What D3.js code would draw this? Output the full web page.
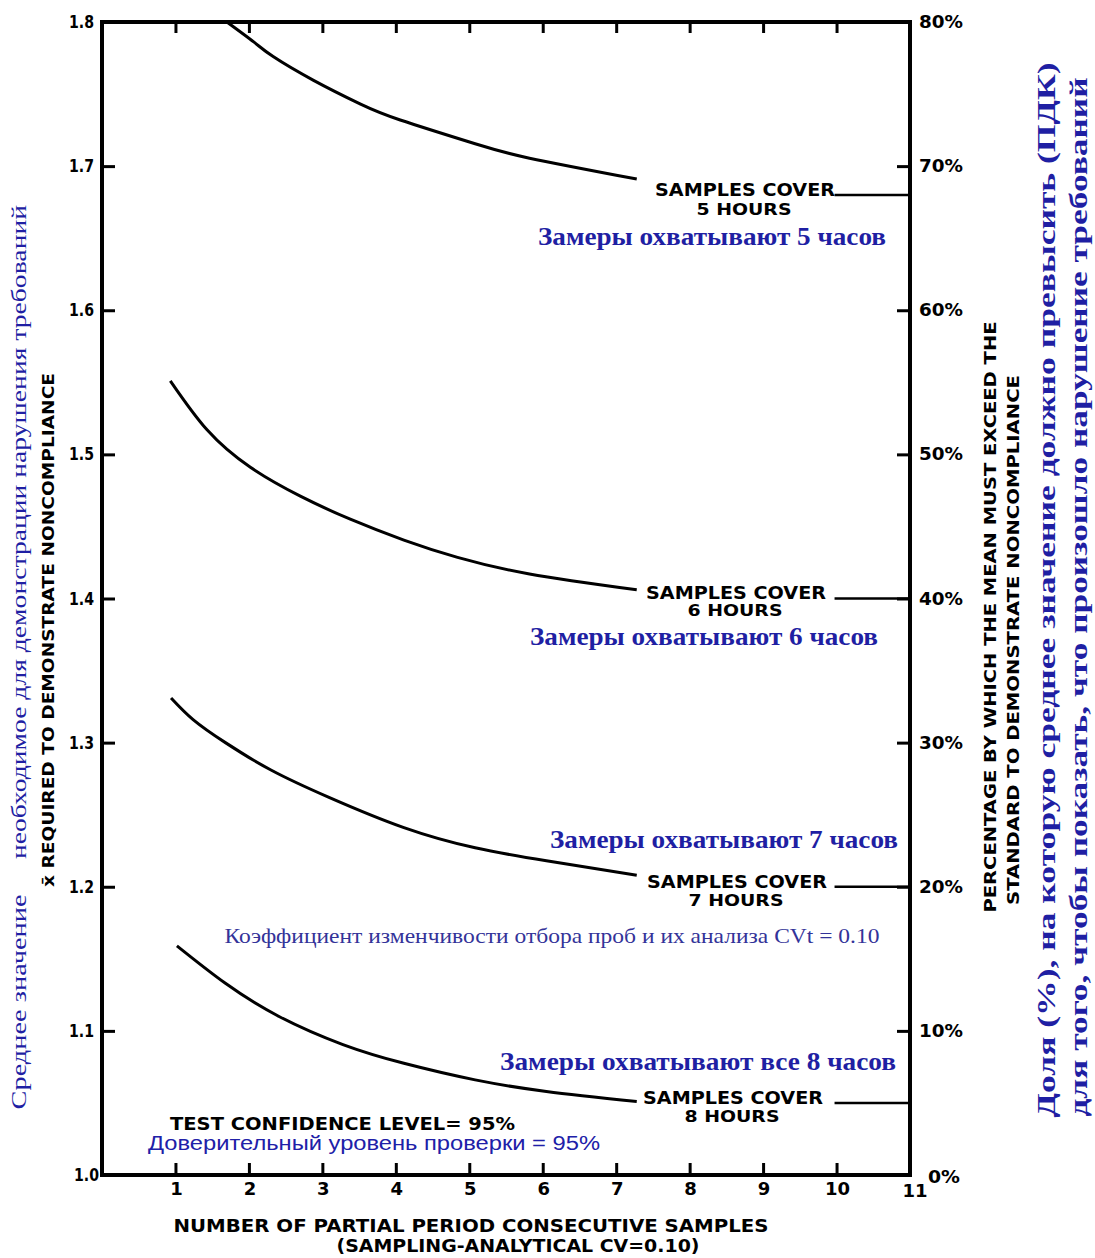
<!DOCTYPE html>
<html>
<head>
<meta charset="UTF-8" />
<title>Samples cover hours</title>
<script src="https://cdn.jsdelivr.net/npm/d3@7"></script>
<style>
body{margin:0;background:#fff;}
.blk{font-family:"DejaVu Sans",sans-serif;font-weight:bold;fill:#000;}
.ser{font-family:"Liberation Serif","Times New Roman",serif;fill:#1f1fa3;}
.san{font-family:"Liberation Sans",Arial,sans-serif;fill:#2020a8;}
</style>
</head>
<body>
<div id="svg_container"></div>
<script type="text/javascript">
var w=1095,h=1258;
var plotL=102,plotR=910,plotT=22,plotB=1175;

// x ticks / y ticks
var xTicks=[1,2,3,4,5,6,7,8,9,10,11];
var yTicks=[1.0,1.1,1.2,1.3,1.4,1.5,1.6,1.7,1.8];
var pctTicks=[0,10,20,30,40,50,60,70,80];

// curves, one pair of arrays per curve
var hours=[5,6,7,8];
var x5=[1.70,2.07,2.33,2.88,3.52,4.06,5.08,5.82,7.28];
var y5=[1.800,1.786,1.776,1.7595,1.743,1.732,1.7155,1.7055,1.691];
var x6=[0.93,1.43,2.02,2.70,3.38,4.11,4.84,5.82,7.28];
var y6=[1.551,1.517,1.491,1.471,1.455,1.4405,1.4285,1.417,1.406];
var x7=[0.94,1.24,1.68,2.30,3.09,4.11,5.08,6.05,7.28];
var y7=[1.331,1.316,1.300,1.281,1.262,1.241,1.227,1.218,1.208];
var x8=[1.02,1.68,2.41,3.28,4.11,5.08,6.05,7.28];
var y8=[1.159,1.133,1.110,1.0905,1.0775,1.066,1.058,1.051];
// level where each curve's leader line meets the right axis
var endLevels=[1.68,1.40,1.20,1.05];
var ruLabels=["Замеры охватывают  5 часов","Замеры охватывают 6 часов","Замеры охватывают 7 часов","Замеры охватывают все 8 часов"];

var curves=[[x5,y5],[x6,y6],[x7,y7],[x8,y8]];

var svg=d3.select('#svg_container')
          .append('svg')
          .attr('width',w)
          .attr('height',h);

var x=d3.scaleLinear().domain([0,11]).range([plotL,plotR]);
var y=d3.scaleLinear().domain([1.0,1.8]).range([plotB,plotT]);
var yp=d3.scaleLinear().domain([0,80]).range([plotB,plotT]);

// axes, ticks pointing inwards
function styleAxis(g){
  g.select('.domain').remove();
  g.selectAll('.tick line').attr('stroke','#000').attr('stroke-width',3);
  g.selectAll('.tick text').remove();
}
svg.append('g').attr('transform','translate(0,'+plotB+')')
   .call(d3.axisBottom(x).tickValues(xTicks.slice(0,10)).tickSize(-12)).call(styleAxis);
svg.append('g').attr('transform','translate(0,'+plotT+')')
   .call(d3.axisTop(x).tickValues(xTicks.slice(0,10)).tickSize(-11)).call(styleAxis);
svg.append('g').attr('transform','translate('+plotL+',0)')
   .call(d3.axisLeft(y).tickValues(yTicks.slice(1,8)).tickSize(-13)).call(styleAxis);
svg.append('g').attr('transform','translate('+plotR+',0)')
   .call(d3.axisRight(yp).tickValues(pctTicks.slice(1,8)).tickSize(-13)).call(styleAxis);

svg.append('rect')
   .attr('x',plotL).attr('y',plotT)
   .attr('width',plotR-plotL).attr('height',plotB-plotT)
   .attr('fill','none').attr('stroke','#000').attr('stroke-width',4);

// tick labels
svg.selectAll('.ylab').data(yTicks).enter().append('text')
   .attr('class','blk')
   .attr('x',function(d){return d==1.0?99:94;})
   .attr('y',function(d){return y(d)+6;})
   .attr('text-anchor','end')
   .attr('font-size',18)
   .attr('textLength',25).attr('lengthAdjust','spacingAndGlyphs')
   .text(function(d){return d.toFixed(1);});

svg.selectAll('.plab').data(pctTicks).enter().append('text')
   .attr('class','blk')
   .attr('x',function(d){return d==0?928:919;})
   .attr('y',function(d){return yp(d)+(d==0?8:6);})
   .attr('font-size',18)
   .attr('textLength',function(d){return d==0?32:44;}).attr('lengthAdjust','spacingAndGlyphs')
   .text(function(d){return d+'%';});

svg.selectAll('.xlab').data(xTicks).enter().append('text')
   .attr('class','blk')
   .attr('x',function(d){return d==11?x(d)+5:x(d)+1;})
   .attr('y',function(d){return d==11?1197:1195;})
   .attr('text-anchor','middle')
   .attr('font-size',18)
   .text(function(d){return d;});

// curves
var line=d3.line()
   .x(function(d){return x(d[0]);})
   .y(function(d){return y(d[1]);})
   .curve(d3.curveNatural);

svg.selectAll('.curve').data(curves).enter().append('path')
   .attr('d',function(c){return line(d3.zip(c[0],c[1]));})
   .attr('fill','none')
   .attr('stroke','#000')
   .attr('stroke-width',3);

// leader lines to the right axis
svg.selectAll('.lead').data(endLevels).enter().append('line')
   .attr('x1',x(10)-2).attr('x2',plotR)
   .attr('y1',function(d){return y(d);})
   .attr('y2',function(d){return y(d);})
   .attr('stroke','#000').attr('stroke-width',2.5);

// SAMPLES COVER labels
var labCx=[745,736,737,733];
var hrGap=[20,17,19,19];
svg.selectAll('.sc').data(endLevels).enter().append('text')
   .attr('class','blk')
   .attr('x',function(d,i){return labCx[i];})
   .attr('y',function(d,i){return y(d)+(i==1?0:1);})
   .attr('text-anchor','middle')
   .attr('font-size',17)
   .attr('textLength',180).attr('lengthAdjust','spacingAndGlyphs')
   .text('SAMPLES COVER');
svg.selectAll('.hr').data(endLevels).enter().append('text')
   .attr('class','blk')
   .attr('x',function(d,i){return labCx[i]-1;})
   .attr('y',function(d,i){return y(d)+hrGap[i];})
   .attr('text-anchor','middle')
   .attr('font-size',16)
   .attr('textLength',95).attr('lengthAdjust','spacingAndGlyphs')
   .text(function(d,i){return hours[i]+' HOURS';});

// russian labels
var ruCx=[712,704,724,698],ruY=[245,645,848,1070],ruW=[348,348,348,396];
svg.selectAll('.ru').data(ruLabels).enter().append('text')
   .attr('class','ser')
   .attr('font-weight','bold')
   .attr('x',function(d,i){return ruCx[i];})
   .attr('y',function(d,i){return ruY[i];})
   .attr('text-anchor','middle')
   .attr('font-size',25)
   .attr('textLength',function(d,i){return ruW[i];}).attr('lengthAdjust','spacingAndGlyphs')
   .text(function(d){return d;});

svg.append('text').attr('class','ser')
   .attr('x',552).attr('y',943).attr('text-anchor','middle')
   .attr('font-size',21).style('fill','#333399')
   .attr('textLength',655).attr('lengthAdjust','spacingAndGlyphs')
   .text('Коэффициент изменчивости отбора проб и их анализа CVt = 0.10');

svg.append('text').attr('class','blk')
   .attr('x',170).attr('y',1130).attr('font-size',17)
   .attr('textLength',345).attr('lengthAdjust','spacingAndGlyphs')
   .text('TEST CONFIDENCE LEVEL= 95%');
svg.append('text').attr('class','san')
   .attr('x',148).attr('y',1150).attr('font-size',20)
   .attr('textLength',452).attr('lengthAdjust','spacingAndGlyphs')
   .text('Доверительный уровень проверки =  95%');

// axis titles
svg.append('text').attr('class','blk')
   .attr('x',471).attr('y',1232).attr('text-anchor','middle').attr('font-size',17)
   .attr('textLength',595).attr('lengthAdjust','spacingAndGlyphs')
   .text('NUMBER OF PARTIAL PERIOD CONSECUTIVE SAMPLES');
svg.append('text').attr('class','blk')
   .attr('x',518).attr('y',1252).attr('text-anchor','middle').attr('font-size',17)
   .attr('textLength',363).attr('lengthAdjust','spacingAndGlyphs')
   .text('(SAMPLING-ANALYTICAL CV=0.10)');

function vtext(cls,cx,cy,len,size,txt){
  return svg.append('text').attr('class',cls)
    .attr('transform','translate('+cx+','+cy+') rotate(-90)')
    .attr('text-anchor','middle')
    .attr('dy','0.35em')
    .attr('font-size',size)
    .attr('textLength',len).attr('lengthAdjust','spacingAndGlyphs')
    .text(txt);
}
vtext('blk',48,630,514,16,'x\u0304 REQUIRED TO DEMONSTRATE NONCOMPLIANCE');
vtext('ser',19,1002,215,21,'Среднее значение');
vtext('ser',19,532,654,21,'необходимое для демонстрации нарушения требований');

vtext('blk',990,617,591,16,'PERCENTAGE BY WHICH THE MEAN MUST EXCEED THE');
vtext('blk',1013,640,530,16,'STANDARD  TO DEMONSTRATE  NONCOMPLIANCE');
vtext('ser',1046,590,1055,26,'Доля (%), на которую среднее значение должно превысить (ПДК)').attr('font-weight','bold');
vtext('ser',1078,597,1039,26,'для того, чтобы показать, что произошло нарушение требований').attr('font-weight','bold');
</script>
</body>
</html>
